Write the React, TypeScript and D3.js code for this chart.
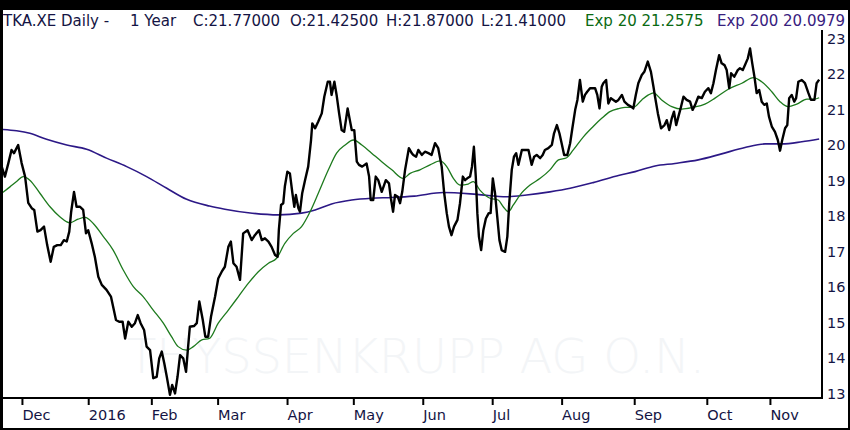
import React, { useEffect, useRef } from 'react';
import * as d3 from 'd3';

// trading-day index (0 = 1 Dec 2015) and daily close
const closeDays = [
  -6.4, -5.4, -4.3, -3.3, -2.5, -1.2, -0.1, 1.0, 2.0, 3.1, 3.9, 4.9, 5.9, 7.0, 8.0, 9.1, 10.1, 11.2, 12.3, 13.3,
  14.2, 15.0, 15.6, 16.5, 17.3, 18.4, 19.4, 20.3, 21.0, 22.1, 23.1, 24.2, 25.3, 26.8, 28.2, 28.9, 29.8, 30.8, 31.9, 32.7,
  33.7, 34.8, 35.8, 36.7, 37.6, 38.7, 39.5, 40.6, 41.6, 42.7, 43.5, 44.3, 45.1, 45.9, 46.9, 47.6, 48.5, 49.3, 50.1, 51.1,
  52.0, 52.7, 53.2, 54.5, 55.4, 56.2, 57.3, 58.1, 59.0, 59.9, 61.2, 62.2, 63.3, 64.3, 65.4, 66.2, 67.0, 68.0, 69.1, 70.1,
  71.5, 72.8, 73.8, 75.1, 76.0, 77.0, 78.1, 79.1, 80.2, 81.0, 81.4, 82.1, 82.8, 83.3, 84.1, 84.9, 85.7, 86.3, 86.8, 87.6,
  88.1, 88.8, 89.7, 90.7, 91.6, 92.0, 92.9, 93.9, 95.0, 95.8, 96.9, 97.6, 98.1, 99.0, 99.7, 100.5, 101.3, 102.1, 103.2, 103.9,
  104.5, 105.3, 106.1, 106.8, 107.8, 109.2, 110.0, 110.5, 111.3, 112.1, 112.9, 114.0, 115.3, 116.3, 116.9, 117.6, 118.2, 119.1, 119.8, 120.5,
  121.4, 122.6, 123.5, 124.0, 124.9, 125.6, 126.7, 127.7, 128.8, 129.8, 130.9, 131.9, 133.0, 133.8, 134.6, 135.3, 136.1, 136.9, 138.0, 138.8,
  139.7, 140.4, 141.1, 142.0, 142.6, 143.2, 143.8, 144.3, 144.8, 145.5, 146.2, 147.0, 147.9, 148.5, 149.2, 149.9, 150.6, 151.3, 152.0, 153.1,
  153.8, 154.4, 155.2, 155.9, 156.6, 157.3, 158.4, 159.4, 160.5, 161.5, 162.3, 163.1, 164.2, 165.0, 165.7, 166.8, 167.9, 168.6, 169.5, 170.3,
  171.0, 171.8, 172.8, 173.7, 174.4, 175.3, 176.0, 176.8, 177.7, 178.4, 179.1, 180.0, 180.9, 181.6, 182.3, 183.0, 183.7, 184.2, 185.1, 185.8,
  186.6, 187.4, 188.2, 189.0, 190.1, 190.9, 192.0, 193.0, 193.7, 194.5, 195.3, 196.4, 197.2, 198.3, 199.3, 200.1, 200.6, 201.5, 202.5, 203.6,
  204.3, 205.1, 205.9, 206.6, 207.3, 208.0, 208.7, 209.6, 210.6, 211.7, 212.5, 213.3, 214.3, 215.4, 216.4, 217.5, 218.3, 219.1, 219.9, 220.9,
  221.7, 222.6, 223.3, 224.1, 224.7, 225.7, 226.8, 227.5, 228.4, 229.1, 230.0, 230.7, 231.4, 232.1, 232.8, 233.6, 234.4, 235.2, 236.0, 236.7,
  237.6, 238.6, 239.5, 240.2, 240.9, 241.8, 242.5, 243.1, 243.9, 244.7, 245.3, 246.0, 247.1, 248.1, 249.2, 250.0, 251.1, 251.8, 252.6,
];
const closeValues = [
  19.32, 19.04, 19.42, 19.79, 19.70, 19.93, 19.42, 19.04, 18.30, 18.15, 18.10, 17.49, 17.53, 17.63, 17.11, 16.64, 17.06, 17.11, 17.11, 17.25,
  17.21, 17.49, 18.05, 18.61, 18.19, 18.19, 18.10, 17.44, 17.53, 17.16, 16.78, 16.22, 15.99, 15.85, 15.66, 15.37, 15.00, 14.95, 14.95, 14.48,
  14.95, 14.81, 14.91, 15.14, 14.91, 14.72, 14.25, 14.15, 13.36, 13.40, 13.92, 14.11, 13.78, 13.40, 12.89, 13.17, 12.93, 13.40, 14.01, 13.92,
  13.54, 14.30, 14.81, 14.83, 14.91, 15.52, 15.00, 14.53, 14.53, 15.09, 15.66, 16.17, 16.36, 16.50, 17.06, 17.21, 16.60, 16.50, 16.13, 17.44,
  17.53, 17.25, 17.39, 17.53, 17.25, 17.30, 17.21, 17.06, 16.83, 16.78, 17.53, 18.24, 18.29, 18.76, 19.18, 19.13, 18.57, 18.19, 18.52, 18.15,
  18.05, 18.57, 18.94, 19.32, 20.07, 20.54, 20.40, 20.59, 20.82, 21.29, 21.71, 21.71, 21.34, 21.71, 21.34, 20.82, 20.35, 20.30, 20.96, 20.63,
  20.35, 20.35, 19.46, 19.37, 19.32, 19.41, 19.04, 18.38, 18.38, 19.04, 18.94, 18.61, 18.94, 18.85, 18.43, 18.05, 18.52, 18.47, 18.29, 18.61,
  19.23, 19.84, 19.70, 19.65, 19.60, 19.79, 19.65, 19.74, 19.70, 19.65, 19.98, 19.84, 19.32, 18.57, 18.01, 17.63, 17.39, 17.63, 17.82, 18.29,
  19.04, 18.94, 18.99, 19.04, 19.32, 19.88, 19.04, 18.01, 17.35, 16.97, 17.53, 17.86, 18.01, 18.01, 18.99, 18.57, 17.91, 17.25, 16.97, 16.92,
  17.35, 18.29, 19.23, 19.60, 19.70, 19.37, 19.79, 19.79, 19.79, 19.37, 19.60, 19.65, 19.56, 19.65, 19.79, 19.84, 19.93, 20.26, 20.49, 20.26,
  19.98, 19.65, 19.65, 19.98, 20.40, 20.92, 21.20, 21.76, 21.15, 21.34, 21.43, 21.53, 21.53, 21.53, 21.34, 20.96, 21.57, 21.67, 21.76, 21.10,
  21.25, 21.20, 21.15, 21.20, 21.34, 21.15, 21.06, 21.01, 20.96, 21.34, 21.67, 21.90, 21.99, 22.28, 21.99, 21.57, 21.29, 20.82, 20.40, 20.49,
  20.63, 20.35, 20.68, 20.87, 20.49, 20.73, 20.96, 21.29, 21.20, 21.15, 20.92, 21.06, 21.29, 21.25, 21.43, 21.53, 21.39, 21.67, 22.04, 22.46,
  22.23, 22.18, 22.04, 21.53, 21.95, 21.85, 22.04, 22.09, 22.04, 22.18, 22.37, 22.65, 22.23, 21.85, 21.39, 21.48, 21.15, 21.06, 21.10, 20.73,
  20.45, 20.30, 20.07, 19.77, 20.07, 20.40, 20.49, 21.25, 21.34, 21.15, 21.25, 21.71, 21.76, 21.67, 21.39, 21.20, 21.20, 21.67, 21.77,
];

const ema20Days = [
  -6.4, -3.8, -1.7, 0.4, 2.5, 5.7, 8.9, 12.0, 15.2, 17.8, 20.0, 22.6, 25.8, 28.9, 32.1, 35.3, 38.4, 41.6, 44.8, 47.4,
  49.5, 52.2, 54.3, 57.0, 59.4, 62.2, 65.4, 68.6, 71.7, 74.9, 78.1, 80.7, 83.3, 86.0, 88.6, 91.3, 93.9, 97.1, 99.7, 102.4,
  105.0, 107.7, 110.8, 114.0, 117.2, 120.8, 123.0, 126.1, 129.3, 132.5, 134.6, 136.7, 138.8, 141.4, 143.0, 145.1, 148.3, 150.9, 152.5, 154.1,
  155.7, 157.8, 161.0, 164.2, 167.3, 170.0, 172.6, 174.7, 177.9, 181.0, 183.7, 186.3, 189.3, 191.1, 193.7, 196.4, 198.5, 200.1, 202.7, 205.9,
  209.1, 212.7, 216.4, 219.6, 223.8, 228.1, 231.8, 234.4, 237.6, 240.2, 242.7, 245.5, 248.7, 251.1, 252.6,
];
const ema20Values = [
  18.57, 18.75, 18.90, 19.04, 18.94, 18.57, 18.19, 17.91, 17.74, 17.84, 17.89, 17.72, 17.35, 16.97, 16.41, 15.94, 15.66, 15.28, 14.91, 14.53,
  14.25, 14.15, 14.25, 14.44, 14.48, 14.91, 15.28, 15.66, 16.03, 16.36, 16.60, 16.74, 17.16, 17.44, 17.63, 18.05, 18.57, 19.23, 19.70, 19.93,
  20.07, 19.93, 19.70, 19.46, 19.23, 18.99, 19.13, 19.23, 19.37, 19.48, 19.32, 18.99, 18.80, 18.83, 18.90, 18.66, 18.43, 18.38, 18.19, 18.05,
  18.24, 18.52, 18.80, 18.99, 19.23, 19.51, 19.57, 19.79, 20.16, 20.45, 20.68, 20.87, 20.96, 20.99, 20.99, 21.20, 21.34, 21.40, 21.20, 21.01,
  20.94, 20.99, 21.08, 21.25, 21.50, 21.67, 21.83, 21.71, 21.43, 21.15, 21.01, 21.08, 21.22, 21.22, 21.26,
];

const ema200Days = [
  -6.4, -1.7, 2.5, 7.8, 14.2, 20.5, 26.8, 33.2, 39.5, 45.9, 52.2, 59.4, 64.3, 71.7, 81.2, 88.6, 92.9, 98.1, 104.5, 110.8,
  117.2, 124.3, 133.5, 144.1, 153.6, 159.9, 167.3, 173.7, 181.0, 189.3, 194.3, 200.6, 206.9, 214.3, 221.7, 229.1, 235.5, 240.8, 247.1, 252.6,
];
const ema200Values = [
  20.37, 20.33, 20.26, 20.09, 19.93, 19.81, 19.56, 19.32, 19.04, 18.71, 18.40, 18.21, 18.12, 18.02, 17.96, 18.01, 18.10, 18.27, 18.38, 18.43,
  18.45, 18.49, 18.59, 18.54, 18.47, 18.52, 18.61, 18.71, 18.87, 19.08, 19.18, 19.34, 19.41, 19.51, 19.68, 19.86, 19.96, 19.96, 20.02, 20.10,
];

const monthDays = [0, 21, 41, 62, 84, 105, 127, 149, 171, 194, 217, 237];
const monthLabels = ['Dec', '2016', 'Feb', 'Mar', 'Apr', 'May', 'Jun', 'Jul', 'Aug', 'Sep', 'Oct', 'Nov'];
const priceTicks = [13, 14, 15, 16, 17, 18, 19, 20, 21, 22, 23];

const headerTexts = ['TKA.XE Daily -', '1 Year', 'C:21.77000', 'O:21.42500', 'H:21.87000', 'L:21.41000', 'Exp 20 21.2575', 'Exp 200 20.0979'];
const headerColors = ['#141444', '#141444', '#141444', '#141444', '#141444', '#141444', '#0b6a12', '#37207e'];
const headerX = [3, 130, 193, 290, 386, 481, 585, 717];

const watermark = 'THYSSENKRUPP AG O.N.';

const W = 850;
const H = 430;

export default function App() {
  const svgRef = useRef<SVGSVGElement>(null);

  useEffect(() => {
    if (!svgRef.current) return;
    const svg = d3.select(svgRef.current);
    svg.selectAll('*').remove();

    const font = "'DejaVu Sans', Verdana, sans-serif";
    const plot = { left: 3, right: 822, top: 30, bottom: 398 };

    const x = d3.scaleLinear().domain([-6, 253.5]).range([3, 822]);
    const y = d3.scaleLinear().domain([13, 23]).range([391, 36]);

    // frame
    svg.append('rect').attr('width', W).attr('height', H).attr('fill', '#000');
    svg.append('rect').attr('x', 3).attr('y', 10).attr('width', W - 5).attr('height', H - 12).attr('fill', '#fff');

    // watermark
    svg.append('text')
      .attr('x', 127).attr('y', 373)
      .attr('font-family', font)
      .attr('font-size', 48)
      .attr('font-weight', 200)
      .attr('fill', '#f3f5f7')
      .attr('textLength', 578)
      .text(watermark);

    // header
    svg.append('g')
      .selectAll('text')
      .data(headerTexts)
      .join('text')
      .attr('x', (_, i) => headerX[i])
      .attr('y', 26)
      .attr('font-family', font)
      .attr('font-size', 15)
      .attr('fill', (_, i) => headerColors[i])
      .text(d => d);

    const clip = svg.append('defs').append('clipPath').attr('id', 'plot-clip');
    clip.append('rect')
      .attr('x', plot.left).attr('y', plot.top)
      .attr('width', plot.right - plot.left).attr('height', plot.bottom - plot.top);

    const g = svg.append('g').attr('clip-path', 'url(#plot-clip)');

    const smooth = d3.line<number>()
      .x(d => x(d))
      .curve(d3.curveMonotoneX);

    g.append('path')
      .attr('d', smooth.y((_, i) => y(ema200Values[i]))(ema200Days))
      .attr('fill', 'none')
      .attr('stroke', '#2c1886')
      .attr('stroke-width', 1.6);

    g.append('path')
      .attr('d', smooth.y((_, i) => y(ema20Values[i]))(ema20Days))
      .attr('fill', 'none')
      .attr('stroke', '#1d7a1d')
      .attr('stroke-width', 1.3);

    const closeLine = d3.line<number>()
      .x(d => x(d))
      .y((_, i) => y(closeValues[i]));

    g.append('path')
      .attr('d', closeLine(closeDays))
      .attr('fill', 'none')
      .attr('stroke', '#000')
      .attr('stroke-width', 2.4)
      .attr('stroke-linejoin', 'round');

    // bottom axis
    const xAxis = svg.append('g')
      .attr('transform', `translate(0,${plot.bottom})`)
      .call(d3.axisBottom(x)
        .tickValues(monthDays)
        .tickFormat((_, i) => monthLabels[i])
        .tickSize(7)
        .tickSizeOuter(0));
    xAxis.select('.domain').remove();
    xAxis.selectAll('line').attr('stroke', '#000').attr('stroke-width', 2);
    xAxis.selectAll('text')
      .attr('text-anchor', 'start')
      .attr('x', 0)
      .attr('y', 12)
      .attr('dy', '0.71em')
      .attr('font-family', font)
      .attr('font-size', 14.5)
      .attr('fill', '#141444');

    svg.append('line')
      .attr('x1', 0).attr('x2', plot.right + 1)
      .attr('y1', plot.bottom).attr('y2', plot.bottom)
      .attr('stroke', '#000').attr('stroke-width', 2);

    // right axis
    const yAxis = svg.append('g')
      .attr('transform', `translate(${plot.right},0)`)
      .call(d3.axisRight(y).tickValues(priceTicks).tickSize(0).tickPadding(5).tickFormat(d3.format('d')));
    yAxis.select('.domain').remove();
    yAxis.selectAll('text')
      .attr('dy', '0.5em')
      .attr('font-family', font)
      .attr('font-size', 14.5)
      .attr('fill', '#141444');

    svg.append('line')
      .attr('x1', plot.right).attr('x2', plot.right)
      .attr('y1', plot.top).attr('y2', plot.bottom + 1)
      .attr('stroke', '#000').attr('stroke-width', 2);
  }, []);

  return (
    <div style={{ position: 'absolute', left: 0, top: 0 }}>
      <svg ref={svgRef} width={W} height={H} style={{ display: 'block' }} />
    </div>
  );
}
